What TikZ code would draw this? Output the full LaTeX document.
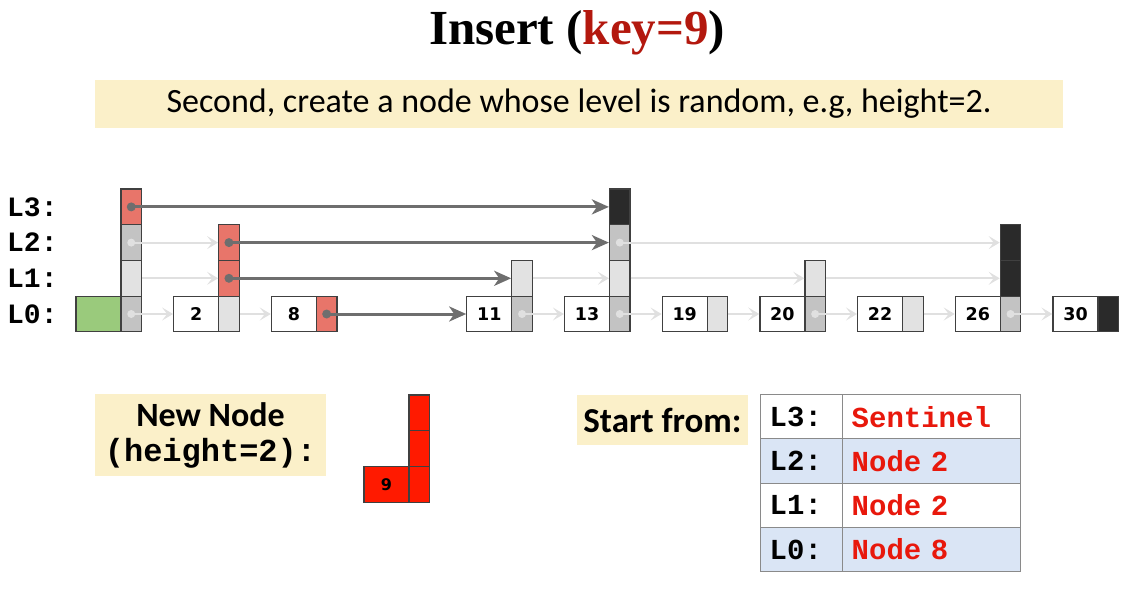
\documentclass[tikz,border=0pt]{standalone}
\usepackage{fontspec}
\setmainfont{Carlito}
\newfontfamily\codefont{Liberation Mono}
\newfontfamily\keyfont{DejaVu Sans}
\newfontfamily\headfont{Liberation Serif}
\usetikzlibrary{arrows.meta}

\definecolor{cellline}{HTML}{404040}
\definecolor{salmon}{HTML}{E8756A}
\definecolor{midgray}{HTML}{C3C3C3}
\definecolor{lightgray}{HTML}{E2E2E2}
\definecolor{topblack}{HTML}{2A2A2A}
\definecolor{farcol}{HTML}{6E6E6E}
\definecolor{nearcol}{HTML}{E0E0E0}
\definecolor{sentinelcol}{HTML}{9ACA7C}
\definecolor{notecol}{HTML}{FBF0C9}
\definecolor{rowblue}{HTML}{DAE5F5}
\definecolor{tabline}{HTML}{8A8A8A}
\definecolor{valred}{HTML}{E8180C}
\definecolor{titlered}{HTML}{B3180E}
\definecolor{newcol}{HTML}{FF1A00}

\begin{document}
\begin{tikzpicture}[x=1pt, y=-1pt,
    cell/.style={draw=cellline, line width=1.2pt, inner sep=0pt, minimum height=35.7pt},
    keybox/.style={cell, fill=white, minimum width=45pt, font=\keyfont\bfseries\fontsize{17.5}{17.5}\selectfont},
    ptrbox/.style={cell, minimum width=20.5pt},
    farrow/.style={draw=farcol, line width=3pt, -{Stealth[length=17pt,width=15pt,inset=5pt]}},
    nearrow/.style={draw=nearcol, line width=2pt, -{Stealth[length=11pt,width=13pt,inset=5pt]}},
    levellabel/.style={anchor=west, inner sep=0pt, font=\codefont\bfseries\fontsize{28}{28}\selectfont},
    notebox/.style={fill=notecol, inner sep=0pt},
    tabcell/.style={draw=tabline, line width=1pt, minimum height=44.3pt, inner xsep=9pt, inner ysep=0pt, align=left, font=\codefont\bfseries\fontsize{29}{29}\selectfont}
  ]
  \useasboundingbox (0,0) rectangle (1127,605);

  % Title and hint
  \node[font=\headfont\bfseries\fontsize{49}{49}\selectfont] (title) at (577,33) {Insert (\textcolor{titlered}{key=9})};
  \node[notebox, minimum width=968pt, minimum height=48pt, font=\fontsize{34}{34}\selectfont] (hint) at (579,104)
    {Second, create a node whose level is random, e.g, height=2.};

  % Level labels
  \foreach \l in {0,...,3}
    \node[levellabel] (lab\l) at (7,{314-35.7*\l}) {L\l:};

  % Nodes (key boxes)
  \node[keybox, fill=sentinelcol] (k0) at (98.5,314) {};
  \foreach \i/\v in {1/2, 2/8, 4/11, 5/13, 6/19, 7/20, 8/22, 9/26, 10/30}
    \node[keybox] (k\i) at ({98.5+97.7*\i},314) {\v};

  % Nodes (pointer cells)
  \foreach \i/\l/\c in {0/0/midgray, 0/1/lightgray, 0/2/midgray, 0/3/salmon,
                        1/0/lightgray, 1/1/salmon, 1/2/salmon,
                        2/0/salmon,
                        4/0/midgray, 4/1/lightgray,
                        5/0/midgray, 5/1/lightgray, 5/2/midgray, 5/3/topblack,
                        6/0/lightgray,
                        7/0/midgray, 7/1/lightgray,
                        8/0/lightgray,
                        9/0/midgray, 9/1/topblack, 9/2/topblack,
                        10/0/topblack}
    \node[ptrbox, fill=\c] (p\i-\l) at ({131.25+97.7*\i},{314-35.7*\l}) {};

  % Arrows (untouched links)
  \draw[nearrow] (p0-2.center) -- (p1-2.west);
  \draw[nearrow] (p0-1.east) -- (p1-1.west);
  \draw[nearrow] (p0-0.center) -- (k1.west);
  \draw[nearrow] (p1-0.east) -- (k2.west);
  \draw[nearrow] (p4-1.east) -- (p5-1.west);
  \draw[nearrow] (p4-0.center) -- (k5.west);
  \draw[nearrow] (p5-2.center) -- (p9-2.west);
  \draw[nearrow] (p5-1.east) -- (p7-1.west);
  \draw[nearrow] (p5-0.center) -- (k6.west);
  \draw[nearrow] (p6-0.east) -- (k7.west);
  \draw[nearrow] (p7-1.east) -- (p9-1.west);
  \draw[nearrow] (p7-0.center) -- (k8.west);
  \draw[nearrow] (p8-0.east) -- (k9.west);
  \draw[nearrow] (p9-0.center) -- (k10.west);

  % Arrows (search path)
  \draw[farrow] (p0-3.center) -- (p5-3.west);
  \draw[farrow] (p1-2.center) -- (p5-2.west);
  \draw[farrow] (p1-1.center) -- (p4-1.west);
  \draw[farrow] (p2-0.center) -- (k4.west);

  % Dots
  \foreach \n in {p0-2, p0-0, p4-0, p5-2, p5-0, p7-0, p9-0}
    \fill[nearcol] (\n.center) circle (4pt);
  \foreach \n in {p0-3, p1-2, p1-1, p2-0}
    \fill[farcol] (\n.center) circle (4.5pt);

  % New node
  \node[notebox, minimum width=231pt, minimum height=82pt, align=center, font=\bfseries\fontsize{34}{35}\selectfont] (newlabel) at (210.5,435)
    {New Node\\{\codefont\fontsize{32}{35}\selectfont (height=2):}};
  \node[cell, fill=newcol, minimum width=45pt, font=\keyfont\bfseries\fontsize{16}{16}\selectfont] (n9) at (386.5,484.3) {9};
  \foreach \l in {0,1,2}
    \node[ptrbox, fill=newcol] (n9-\l) at (419.2,{484.3-35.7*\l}) {};

  % Start table
  \node[notebox, minimum width=171pt, minimum height=50pt, font=\bfseries\fontsize{35}{35}\selectfont] (startlabel) at (662.5,420) {Start from:};
  \foreach \r/\lv/\val/\bg in {0/L3/Sentinel/white, 1/L2/Node 2/rowblue, 2/L1/Node 2/white, 3/L0/Node 8/rowblue} {
    \node[tabcell, fill=\bg, text width=64pt] (t\r a) at (801.7,{416.7+44.3*\r}) {\lv:};
    \node[tabcell, fill=\bg, text width=160pt, text=valred] (t\r b) at (931.7,{416.7+44.3*\r}) {\val};
  }
\end{tikzpicture}
\end{document}
